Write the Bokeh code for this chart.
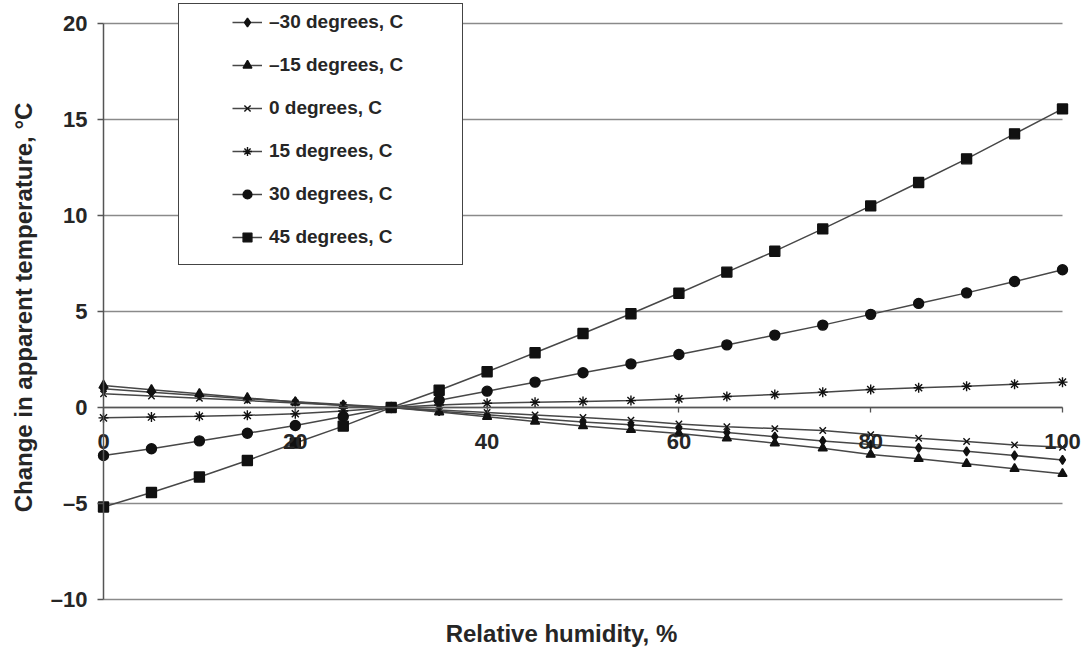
from bokeh.plotting import figure
from bokeh.models import LinearAxis, FixedTicker, Legend, LegendItem, Range1d
from bokeh.embed import file_html
from bokeh.resources import INLINE

# ---------------- data ----------------
rh = [0, 5, 10, 15, 20, 25, 30, 35, 40, 45, 50, 55, 60, 65, 70, 75, 80, 85, 90, 95, 100]

t_m30 = [0.97, 0.80, 0.63, 0.46, 0.30, 0.15, 0.0, -0.19, -0.38, -0.57, -0.76, -0.90,
         -1.08, -1.30, -1.52, -1.74, -1.93, -2.10, -2.28, -2.50, -2.73]
t_m15 = [1.15, 0.92, 0.71, 0.50, 0.28, 0.10, 0.0, -0.24, -0.48, -0.73, -0.96, -1.16,
         -1.35, -1.60, -1.86, -2.12, -2.45, -2.67, -2.93, -3.19, -3.45]
t_0 = [0.71, 0.60, 0.48, 0.36, 0.24, 0.12, 0.0, -0.13, -0.26, -0.39, -0.52, -0.66,
       -0.86, -1.00, -1.10, -1.20, -1.41, -1.60, -1.77, -1.95, -2.07]
t_15 = [-0.54, -0.50, -0.46, -0.41, -0.33, -0.18, 0.0, 0.13, 0.22, 0.27, 0.31, 0.36,
        0.45, 0.57, 0.68, 0.80, 0.94, 1.03, 1.11, 1.21, 1.32]
t_30 = [-2.50, -2.15, -1.74, -1.34, -0.94, -0.47, 0.0, 0.38, 0.85, 1.32, 1.81, 2.27,
        2.76, 3.26, 3.77, 4.29, 4.85, 5.42, 5.97, 6.56, 7.17]
t_45 = [-5.18, -4.43, -3.62, -2.76, -1.85, -0.97, 0.0, 0.90, 1.86, 2.85, 3.85, 4.88,
        5.95, 7.05, 8.14, 9.30, 10.50, 11.72, 12.95, 14.25, 15.55]

series_labels = ["\u201330 degrees, C", "\u201315 degrees, C", "0 degrees, C",
                 "15 degrees, C", "30 degrees, C", "45 degrees, C"]
series_values = [t_m30, t_m15, t_0, t_15, t_30, t_45]
series_markers = ["diamond", "triangle", "x", "asterisk", "circle", "square"]
marker_sizes = [9, 9, 9, 10, 10, 10]

x_ticks = [0, 20, 40, 60, 80, 100]
y_ticks = [-10, -5, 0, 5, 10, 15, 20]
y_tick_labels = ["\u201310", "\u20135", "0", "5", "10", "15", "20"]

x_title = "Relative humidity, %"
y_title = "Change in apparent temperature, \u00b0C"

FONT = "Liberation Sans"
TXT = "#262626"
AX = "#555555"

x_lo, x_hi = x_ticks[0], x_ticks[-1]
y_lo, y_hi = y_ticks[0], y_ticks[-1]

# ranges padded around the data area so the axes (drawn at x=0 / y=0) and their
# labels are not clipped by the frame
p = figure(width=1086, height=649,
           x_range=Range1d(-6.778, 102.294), y_range=Range1d(-10.625, 21.04),
           output_backend="svg", toolbar_location=None,
           min_border_left=38, min_border_right=2, min_border_top=3, min_border_bottom=38)
p.outline_line_color = None
p.background_fill_color = "white"
p.xgrid.grid_line_color = None
p.ygrid.grid_line_color = None

# horizontal gridlines between x = 0 and x = 100 at every y tick
p.segment(x0=[x_lo] * len(y_ticks), x1=[x_hi] * len(y_ticks), y0=y_ticks, y1=y_ticks,
          line_color="#8a8a8a", line_width=1.5)

# y axis at x = 0
ya = p.yaxis[0]
ya.fixed_location = 0
ya.bounds = (y_lo, y_hi)
ya.ticker = FixedTicker(ticks=y_ticks)
ya.major_label_overrides = {v: s for v, s in zip(y_ticks, y_tick_labels)}
ya.minor_tick_line_color = None
ya.major_tick_in = 0
ya.major_tick_out = 6
ya.major_tick_line_color = AX
ya.major_tick_line_width = 1.3
ya.axis_line_color = AX
ya.axis_line_width = 1.5
ya.major_label_standoff = 10
ya.major_label_text_font = FONT
ya.major_label_text_font_style = "bold"
ya.major_label_text_font_size = "22px"
ya.major_label_text_color = TXT

# x axis at y = 0
xa = p.xaxis[0]
xa.fixed_location = 0
xa.bounds = (x_lo, x_hi)
xa.ticker = FixedTicker(ticks=x_ticks)
xa.minor_tick_line_color = None
xa.major_tick_in = 0
xa.major_tick_out = 5
xa.major_tick_line_color = AX
xa.major_tick_line_width = 1.3
xa.axis_line_color = AX
xa.axis_line_width = 1.5
xa.major_label_standoff = 22
xa.major_label_text_font = FONT
xa.major_label_text_font_style = "bold"
xa.major_label_text_font_size = "22px"
xa.major_label_text_color = TXT


def title_axis(label, standoff):
    ax = LinearAxis(ticker=FixedTicker(ticks=[]), axis_line_color=None,
                    major_tick_line_color=None, minor_tick_line_color=None,
                    major_label_text_font_size="0px", major_label_standoff=0,
                    major_tick_out=0, major_tick_in=0)
    ax.axis_label = label
    ax.axis_label_text_font = FONT
    ax.axis_label_text_font_style = "bold"
    ax.axis_label_text_font_size = "24px"
    ax.axis_label_text_color = TXT
    ax.axis_label_standoff = standoff
    return ax


p.add_layout(title_axis(x_title, 8), "below")
p.add_layout(title_axis(y_title, 2), "left")

items = []
for lab, vals, mk, ms in zip(series_labels, series_values, series_markers, marker_sizes):
    ln = p.line(rh, vals, line_color="#474747", line_width=1.5)
    sc = p.scatter(rh, vals, marker=mk, size=ms, fill_color="#111111",
                   line_color="#111111", line_width=1.4)
    items.append(LegendItem(label=lab, renderers=[ln, sc]))

# legend frame (a one-item legend with an invisible glyph, used only as the box)
ghost = p.line([], [], line_alpha=0)
box_legend = Legend(items=[LegendItem(label=" ", renderers=[ghost])],
                    location=(140, 346), padding=0, spacing=0, margin=0,
                    glyph_width=1, glyph_height=260, label_height=260,
                    label_width=282, label_standoff=0,
                    label_text_font_size="1px",
                    border_line_color="#444444", border_line_width=1.5, border_line_alpha=1.0,
                    background_fill_color="white", background_fill_alpha=1.0)
p.add_layout(box_legend, "center")

legend = Legend(items=items, location=(194, 363), padding=0, spacing=21, margin=0,
                glyph_width=30, glyph_height=22, label_height=22, label_standoff=7,
                label_text_font=FONT, label_text_font_style="bold",
                label_text_font_size="19px", label_text_color=TXT,
                border_line_alpha=0, background_fill_alpha=0)
p.add_layout(legend, "center")

open("out.html", "w").write(file_html(p, INLINE))
